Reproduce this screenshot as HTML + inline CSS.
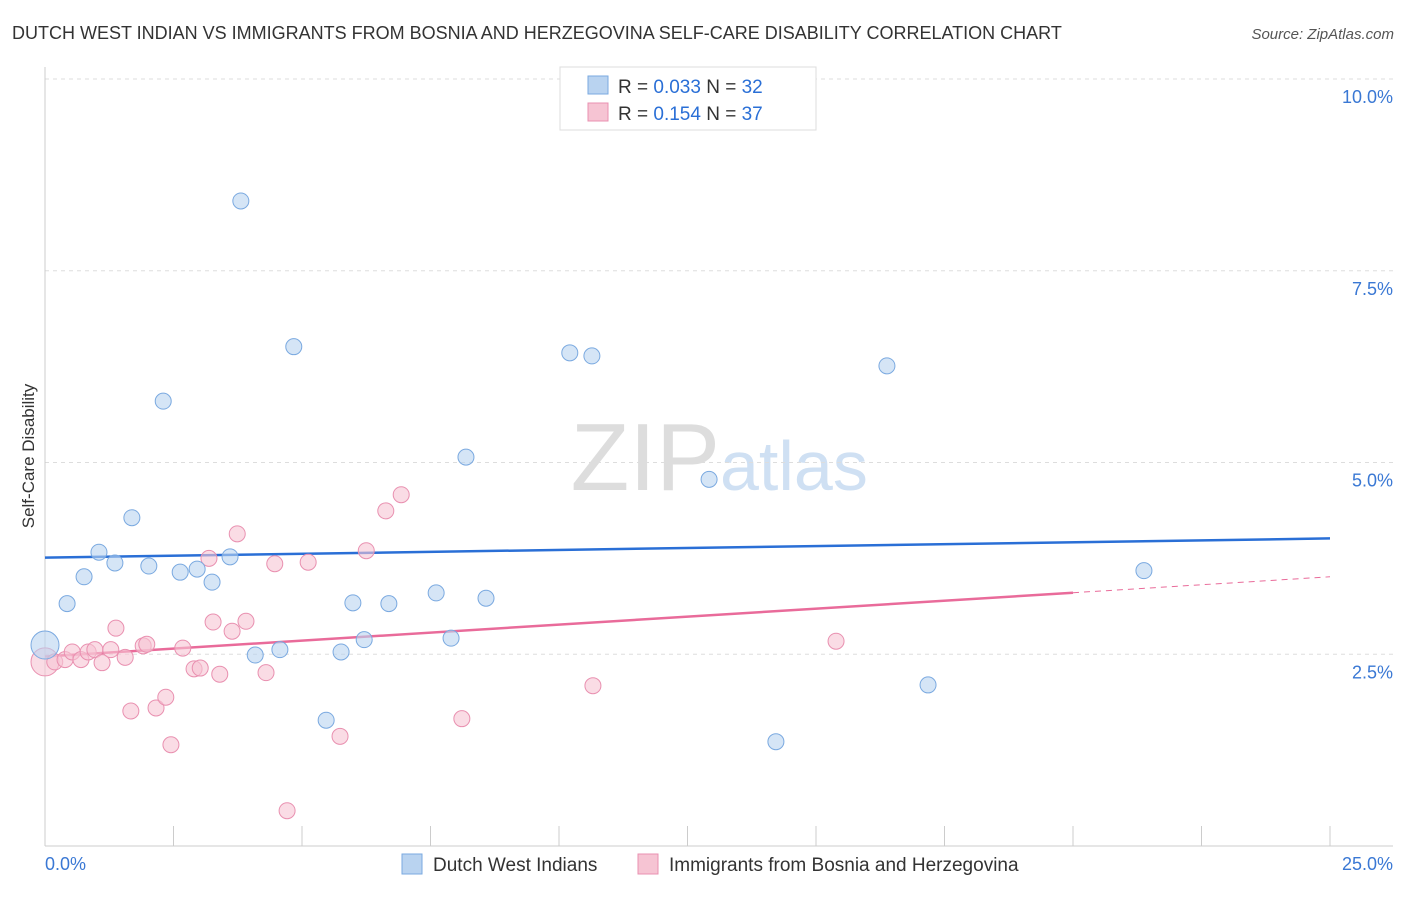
<!DOCTYPE html>
<html><head><meta charset="utf-8"><style>
body{margin:0;background:#fff;font-family:"Liberation Sans",sans-serif;}
svg text{font-family:"Liberation Sans",sans-serif;}
</style></head><body>
<svg id="chart" width="1406" height="892" xmlns="http://www.w3.org/2000/svg">
<text x="12" y="39" font-size="18" fill="#333">DUTCH WEST INDIAN VS IMMIGRANTS FROM BOSNIA AND HERZEGOVINA SELF-CARE DISABILITY CORRELATION CHART</text>
<text x="1394" y="39" font-size="15" fill="#555" font-style="italic" text-anchor="end">Source: ZipAtlas.com</text>
<text x="720" y="490" font-size="96" fill="#ddd" text-anchor="end" font-family="Liberation Serif">ZIP</text>
<text x="720" y="490" font-size="70" fill="#cfe0f3">atlas</text>
<g id="grid"></g><g id="axes"></g><g id="lines"></g><g id="points"></g>
<text transform="translate(34,456) rotate(-90)" font-size="17" fill="#333" text-anchor="middle">Self-Care Disability</text>
<text x="45" y="870" font-size="18" fill="#3a78d4">0.0%</text>
<text x="1393" y="870" font-size="18" fill="#3a78d4" text-anchor="end">25.0%</text>
<g>
<rect x="560" y="67" width="256" height="63" fill="#fff" stroke="#ddd"/>
<rect x="588" y="76" width="20" height="18" fill="#b9d3f0" stroke="#7aa9e0"/>
<rect x="588" y="103" width="20" height="18" fill="#f6c4d3" stroke="#e990b0"/>
<text x="618" y="93" font-size="19" fill="#333">R = <tspan fill="#2a6fd6">0.033</tspan>   N = <tspan fill="#2a6fd6">32</tspan></text>
<text x="618" y="120" font-size="19" fill="#333">R =  <tspan fill="#2a6fd6">0.154</tspan>   N = <tspan fill="#2a6fd6">37</tspan></text>
</g>
<g>
<rect x="402" y="854" width="20" height="20" fill="#b9d3f0" stroke="#7aa9e0"/>
<text x="433" y="871" font-size="19" fill="#333">Dutch West Indians</text>
<rect x="638" y="854" width="20" height="20" fill="#f6c4d3" stroke="#e990b0"/>
<text x="669" y="871" font-size="19" fill="#333">Immigrants from Bosnia and Herzegovina</text>
</g>
</svg>
<script>
const yTicks=[2.5,5,7.5,10];
const yTickLabels=["2.5%","5.0%","7.5%","10.0%"];
const xTicks=[0,2.5,5,7.5,10,12.5,15,17.5,20,22.5,25];
const blueX=[0,0.43,0.76,1.05,1.36,1.69,2.02,2.30,2.63,2.96,3.25,3.60,3.81,4.09,4.57,4.84,5.47,5.76,5.99,6.21,6.69,7.61,7.90,8.19,8.58,10.21,10.64,12.92,14.22,16.38,17.18,21.38];
const blueY=[2.62,3.16,3.51,3.83,3.69,4.28,3.65,5.80,3.57,3.61,3.44,3.77,8.41,2.49,2.56,6.51,1.64,2.53,3.17,2.69,3.16,3.30,2.71,5.07,3.23,6.43,6.39,4.78,1.36,6.26,2.10,3.59];
const pinkX=[0,0.19,0.39,0.53,0.70,0.84,0.97,1.11,1.28,1.38,1.56,1.67,1.91,1.98,2.16,2.35,2.45,2.68,2.90,3.02,3.19,3.27,3.40,3.64,3.74,3.91,4.30,4.47,4.71,5.12,5.74,6.25,6.63,6.93,8.11,10.66,15.39];
const pinkY=[2.40,2.40,2.43,2.53,2.43,2.53,2.56,2.39,2.56,2.84,2.46,1.76,2.61,2.63,1.80,1.94,1.32,2.58,2.31,2.32,3.75,2.92,2.24,2.80,4.07,2.93,2.26,3.68,0.46,3.70,1.43,3.85,4.37,4.58,1.66,2.09,2.67];
const blueTrend=[3.76,4.01];
const pinkTrend=[2.47,3.51];
const X=v=>45+v*51.4, Y=v=>846-v*76.7;
const NS="http://www.w3.org/2000/svg";
function mk(tag,attrs,parent){const e=document.createElementNS(NS,tag);for(const k in attrs)e.setAttribute(k,attrs[k]);document.getElementById(parent).appendChild(e);return e;}
yTicks.forEach((t,i)=>{
 const g=mk('line',{x1:45,x2:1393,y1:Y(t),y2:Y(t),stroke:'#ddd','stroke-dasharray':'4,4'},'grid');
 
 
 const l=mk('text',{x:1393,y:Y(t)+24,'font-size':18,fill:'#3a78d4','text-anchor':'end'},'grid');
 l.textContent=yTickLabels[i];
 
 
});
const ya=mk('line',{x1:45,x2:45,y1:67,y2:846,stroke:'#ccc'},'axes');


const xa=mk('line',{x1:45,x2:1393,y1:846,y2:846,stroke:'#ccc'},'axes');


xTicks.forEach(t=>{
 const k=mk('line',{x1:X(t),x2:X(t),y1:826,y2:846,stroke:'#ccc'},'axes');
 
 
});
function pts(xs,ys,fill,stroke,name){
 xs.forEach((x,i)=>{
  const c=mk('circle',{cx:X(x),cy:Y(ys[i]),r:i===0?14:8,fill:fill,'fill-opacity':0.6,stroke:stroke,'stroke-width':1},'points');
  
  
 });
}
pts(pinkX,pinkY,'#f6c4d3','#e990b0','pink-point');
pts(blueX,blueY,'#b9d3f0','#7aa9e0','blue-point');
const bl=mk('line',{x1:X(0),y1:Y(blueTrend[0]),x2:X(25),y2:Y(blueTrend[1]),stroke:'#2a6fd6','stroke-width':2.5},'lines');


const pm=pinkTrend[0]+(pinkTrend[1]-pinkTrend[0])*20/25;
const pl=mk('line',{x1:X(0),y1:Y(pinkTrend[0]),x2:X(20),y2:Y(pm),stroke:'#e96b9a','stroke-width':2.5},'lines');


const pd=mk('line',{x1:X(20),y1:Y(pm),x2:X(25),y2:Y(pinkTrend[1]),stroke:'#e96b9a','stroke-width':1,'stroke-dasharray':'6,5'},'lines');


</script>
</body></html>
